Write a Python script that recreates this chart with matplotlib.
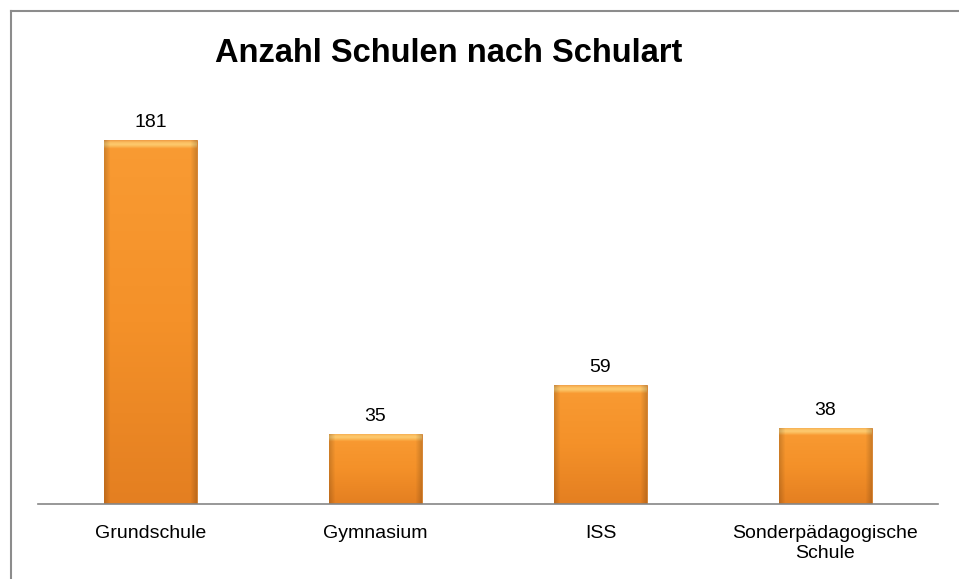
import numpy as np
import matplotlib
matplotlib.use("Agg")
import matplotlib.pyplot as plt
from matplotlib.colors import LinearSegmentedColormap, to_rgb
from matplotlib.lines import Line2D

# ==============================
# Data
# ==============================
categories = ["Grundschule", "Gymnasium", "ISS", "Sonderpädagogische\nSchule"]
counts     = [181, 35, 59, 38]
title      = "Anzahl Schulen nach Schulart"

plt.rcParams['font.family'] = ['Liberation Sans', 'DejaVu Sans']

# ==============================
# Figure
# ==============================
fig = plt.figure(figsize=(9.59, 5.79), dpi=100)
ax  = fig.add_axes([38 / 959, 1 - 504 / 579, 900 / 959, 402 / 579])
ax.set_xlim(-0.5, len(categories) - 0.5)
ax.set_ylim(0, 200)

x    = np.arange(len(categories))
bars = ax.bar(x, counts, width=0.41, color="#F7962F", edgecolor="#D07A28",
              linewidth=0.6, zorder=2)

# body gradient (bottom -> top) and top bevel colours
body  = LinearSegmentedColormap.from_list("body", ["#E47F21", "#F49129", "#F99B33"])
bev_c = [to_rgb(c) for c in ["#F99B33", "#FBB755", "#FDCB70", "#FBBE60", "#F0A048"]]
px_per_unit = 402 / 200

for b in bars:
    x0, w, h = b.get_x(), b.get_width(), b.get_height()
    n = 400
    v = np.linspace(0, h, n)
    rgb = body(v / h)[:, :3]
    bevel = 8 / px_per_unit
    top = v > h - bevel
    t = (v[top] - (h - bevel)) / bevel
    pos = np.linspace(0, 1, len(bev_c))
    for k in range(3):
        rgb[top, k] = np.interp(t, pos, [c[k] for c in bev_c])
    img = np.repeat(rgb[:, None, :], 64, axis=1)
    # darker side edges
    edge = np.concatenate([np.linspace(0.84, 1, 5), np.ones(54), np.linspace(1, 0.84, 5)])
    img = img * edge[None, :, None]
    im = ax.imshow(img, aspect="auto", origin="lower", interpolation="bilinear",
                   extent=[x0, x0 + w, 0, h], zorder=2.5)
    im.set_clip_path(b)
    ax.text(x0 + w / 2, h + 4.5, str(int(h)), ha="center", va="bottom",
            fontsize=14, color="#000000")

for s in ["top", "right", "left"]:
    ax.spines[s].set_visible(False)
ax.spines["bottom"].set_color("#868686")
ax.spines["bottom"].set_linewidth(1.2)
ax.spines["bottom"].set_zorder(3)
ax.set_yticks([])
ax.set_xticks(x)
ax.set_xticklabels(categories, fontsize=14, linespacing=1.25)
ax.tick_params(axis="x", length=0, pad=15)

fig.text(449 / 959, 1 - 54 / 579, title, ha="center", va="center",
         fontsize=23.5, fontweight="bold")

# outer chart border (top and left edges visible)
fig.add_artist(Line2D([10.5 / 959, 1.0], [1 - 10.5 / 579] * 2, color="#8C8C8C", lw=1.5))
fig.add_artist(Line2D([10.5 / 959] * 2, [0, 1 - 10.5 / 579], color="#8C8C8C", lw=1.5))

fig.savefig("out.png", dpi=100)
